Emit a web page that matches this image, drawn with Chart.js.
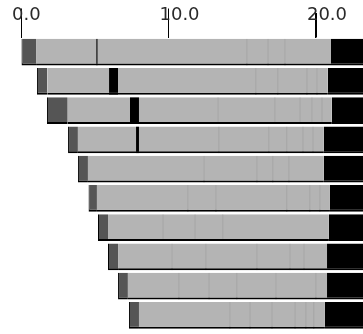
<!DOCTYPE html>
<html>
<head>
<meta charset="utf-8">
<script src="https://cdn.jsdelivr.net/npm/chart.js@4"></script>
<style>
  html, body { margin: 0; padding: 0; background: #fff; }
  #wrap { width: 363px; height: 334px; position: relative; }
</style>
</head>
<body>
<div id="wrap"><canvas id="mainChart"></canvas></div>
<script>
// --- Data ---
const rows = ['1', '2', '3', '4', '5', '6', '7', '8', '9', '10'];
const tickValues = [0, 10, 20];

// dark lead-in segment
const starts   = [0.00, 1.08, 1.76, 3.19, 3.86, 4.58, 5.22, 5.90, 6.58, 7.32];
const headEnds = [1.02, 1.78, 3.17, 3.86, 4.54, 5.15, 5.90, 6.58, 7.25, 8.00];
// light gray body ends here, black tail after it
const bodyEnds = [21.02, 20.81, 21.08, 20.54, 20.54, 20.95, 20.88, 20.75, 20.75, 20.61];
const tailEnd = 25;
// black marks inside the body
const marks = [[5.10, 5.20], [5.97, 6.58], [7.39, 8.00], [7.80, 8.00], null, null, null, null, null, null];
// faint divider lines inside the body
const faintLines = [
    [15.32, 16.75, 17.90],
    [15.93, 17.42, 19.39, 20.07],
    [13.36, 17.22, 18.92, 19.73, 20.41],
    [13.42, 16.81, 18.03, 19.12, 19.80],
    [12.41, 16.00, 17.08, 18.17],
    [11.32, 13.22, 18.03, 19.59, 20.27],
    [9.63, 11.80, 13.69],
    [10.24, 12.54, 16.00, 18.24, 19.19],
    [10.71, 12.75, 14.64, 17.29, 20.00],
    [14.17, 15.53, 17.02, 18.58, 19.32, 19.86]
];

// --- Build datasets ---
const bottomEdge = { top: 0, left: 0, right: 0, bottom: 2 };

function segment(label, data, color, border) {
    return {
        label: label,
        data: data,
        backgroundColor: color,
        borderColor: '#000',
        borderWidth: border || bottomEdge,
        borderSkipped: false,
        grouped: false,
        barPercentage: 0.92,
        categoryPercentage: 1.0
    };
}

const lineHalf = 0.035;
const faintData = [];
faintLines.forEach((xs, i) => {
    xs.forEach(p => faintData.push({ y: rows[i], x: [p - lineHalf, p + lineHalf] }));
});

const datasets = [
    segment('lines', faintData, '#9a9a9a'),
    segment('marks', marks, '#000'),
    segment('head', rows.map((r, i) => [starts[i], headEnds[i]]), '#555555', { top: 0, left: 1, right: 0, bottom: 2 }),
    segment('body', rows.map((r, i) => [headEnds[i], bodyEnds[i]]), '#b4b4b4'),
    segment('tail', rows.map((r, i) => [bodyEnds[i], tailEnd]), '#000')
];

// long tick marks running up into the labels, labels slightly left of each tick
const tickLabelPlugin = {
    id: 'tickLabels',
    afterDraw(chart) {
        const scale = chart.scales.x;
        const top = chart.chartArea.top;
        const c = chart.ctx;
        c.save();
        c.strokeStyle = '#000';
        c.lineWidth = 1;
        scale.ticks.forEach(t => {
            const px = Math.round(scale.getPixelForValue(t.value)) + 0.5;
            c.beginPath();
            c.moveTo(px, 13);
            c.lineTo(px, top);
            c.stroke();
        });
        c.font = '18px "DejaVu Sans"';
        c.fillStyle = '#2a2a2a';
        c.textAlign = 'left';
        c.textBaseline = 'middle';
        scale.ticks.forEach(t => {
            c.fillText(t.value.toFixed(1), scale.getPixelForValue(t.value) - 9, 15);
        });
        c.restore();
    }
};

// --- Chart ---
const ctx = document.getElementById('mainChart').getContext('2d');
new Chart(ctx, {
    type: 'bar',
    data: { labels: rows, datasets: datasets },
    plugins: [tickLabelPlugin],
    options: {
        indexAxis: 'y',
        responsive: true,
        maintainAspectRatio: false,
        animation: false,
        layout: { padding: { left: 21, right: 0, top: 8.5, bottom: 4 } },
        plugins: {
            legend: { display: false },
            tooltip: { enabled: false }
        },
        scales: {
            x: {
                type: 'linear',
                position: 'top',
                min: 0,
                max: 23.19,
                border: { display: false },
                grid: { drawOnChartArea: false, drawTicks: true, tickLength: 29, color: '#000' },
                afterBuildTicks: (axis) => { axis.ticks = tickValues.map(v => ({ value: v })); },
                ticks: { display: false }
            },
            y: {
                type: 'category',
                display: false
            }
        }
    }
});
</script>
</body>
</html>
